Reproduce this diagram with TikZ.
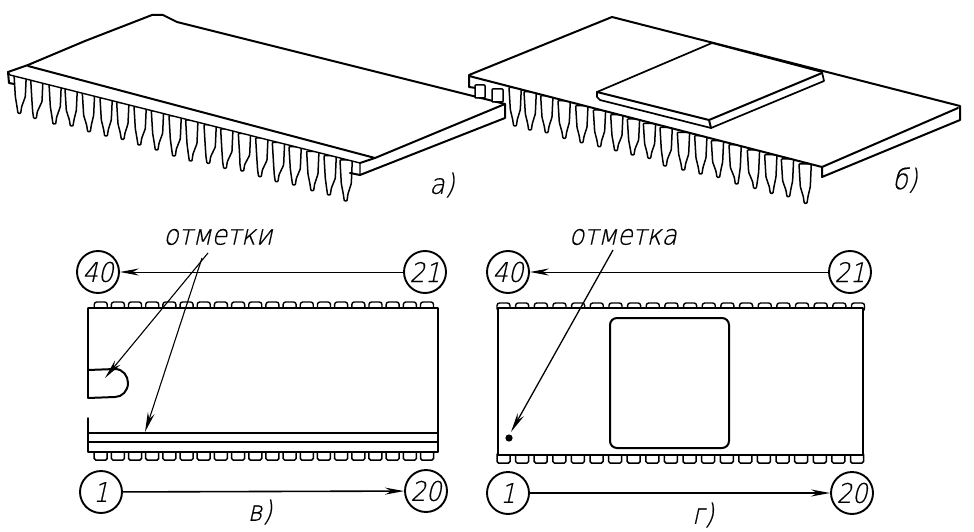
\documentclass[tikz,border=0pt]{standalone}
\usepackage{fontspec}
\usetikzlibrary{arrows.meta}
\newfontfamily\lab[FakeSlant=0.22,FakeBold=0.5,FakeStretch=0.9]{DejaVu Sans ExtraLight}
\tikzset{
  ln/.style={line width=2pt,line join=round,line cap=round},
  thn/.style={line width=1.4pt,line join=round,line cap=round},
  body/.style={ln,fill=white},
  pinl/.style={line width=1.5pt,line join=round,fill=white,rounded corners=0.8pt},
  num/.style={circle,draw,line width=1.9pt,minimum size=42pt,inner sep=0pt,font=\lab\fontsize{27}{27}\selectfont},
  lbl/.style={inner sep=0pt,font=\lab\fontsize{28}{28}\selectfont},
  arr/.style={line width=1pt,-{Stealth[length=19pt,width=7pt]}},
  narr/.style={line width=1.1pt,-{Stealth[length=20pt,width=7pt]}}
}
\newcommand{\longpin}[4]{%
  \pgfmathsetmacro{\La}{#2+0.50*(#4-#2)}%
  \pgfmathsetmacro{\Lb}{#2+0.80*(#4-#2)}%
  \pgfmathsetmacro{\xl}{#1-18}\pgfmathsetmacro{\xr}{#1+19}%
  \pgfmathsetmacro{\xxl}{#1-14}\pgfmathsetmacro{\xxr}{#1+16}%
  \pgfmathsetmacro{\yt}{#2-18}%
  \pgfmathsetmacro{\bl}{#3-7}\pgfmathsetmacro{\br}{#3+7}%
  \pgfmathsetmacro{\tl}{#3-4}\pgfmathsetmacro{\tr}{#3+4}%
  \draw[pinl] (\xl,\yt) -- (\xxl,\La) -- (\bl,\Lb) -- (\tl,#4) -- (\tr,#4) -- (\br,\Lb) -- (\xxr,\La) -- (\xr,\yt) -- cycle;}
\newcommand{\toprow}[3]{% first centre, last centre, base y
  \foreach \i in {0,...,19}{%
    \pgfmathsetmacro{\cx}{#1+\i*(#2-#1)/19}%
    \draw[line width=1.4pt,fill=white,rounded corners=2.5pt] (\cx-6.5,#3+2) -- (\cx-6.5,#3-6) -- (\cx+6.5,#3-6) -- (\cx+6.5,#3+2) -- cycle;}}
\newcommand{\botrow}[3]{%
  \foreach \i in {0,...,19}{%
    \pgfmathsetmacro{\cx}{#1+\i*(#2-#1)/19}%
    \draw[line width=1.5pt,fill=white,rounded corners=1.5pt] (\cx-6.5,#3-2) -- (\cx-6.5,#3+8) -- (\cx+6.5,#3+8) -- (\cx+6.5,#3-2) -- cycle;}}
\begin{document}
\begin{tikzpicture}[x=1pt,y=-1pt]
\useasboundingbox (0,0) rectangle (974,532);
% --- figure b: long pins
\begin{scope}[shift={(460pt,0pt)},x=0.3333pt,y=-0.3333pt]
  \foreach \a/\b/\c/\d in {165/280/165/378,210/293/210/390,260/305/260/398,312/320/313/415,365/335/365/428,418/348/418/440,470/362/468/452,520/375/518/465,568/388/568/475,618/400/615/498,670/415/670/510,722/425/722/522,772/440/775/532,825/452/830/552,880/468/885/565,932/482/935/580,982/495/985/590,1035/510/1037/610}{\longpin{\a}{\b}{\c}{\d}}
\end{scope}
% plate b
\draw[body] (469,75) -- (612,17) -- (960,106) -- (960,120) -- (822,177) -- (822,167) -- (469,76) -- cycle;
\draw[ln] (822,167) -- (958,108);
\draw[ln] (469,76) -- (469,87) -- (476,88);
% chip on b
\draw[body,line width=1.7pt] (597,92) -- (712,43) -- (822,72) -- (824,81) -- (711,128) -- (600,100) -- (597,97) -- cycle;
\draw[ln] (597,92) -- (709,120) -- (822,73);
\draw[ln] (709,120) -- (711,128);
% --- figure a: pins
\begin{scope}[x=0.3333pt,y=-0.3333pt]
  \foreach \a/\b/\c/\d in {60/240/58/340,110/255/105/355,165/268/163/372,213/285/215/378,265/297/267/395,318/312/318/408,368/325/368/418,420/337/418/435,472/350/470/450,525/365/522/468,575/378/572/483,630/392/625/490,680/405/675/505,733/418/727/513,785/432/780/530,835/445/830/545,885/458/882/555,938/472/937/572,990/485/987/585,1038/498/1037/603}{\longpin{\a}{\b}{\c}{\d}}
\end{scope}
% plate a
\fill[white] (8,72) -- (28,65) -- (152,15) -- (163,15) -- (177,22) -- (505,104) -- (505,118) -- (360,175) -- (360,163) -- (10,75) -- cycle;
\draw[ln] (8,72) -- (28,65) -- (85,41) -- (152,15) -- (163,15) -- (177,22) -- (505,104) -- (505,118) -- (360,175) -- (350,173);
\draw[ln] (28,66) -- (375,158) -- (505,104);
\draw[thn] (8,72) -- (10,75) -- (360,163) -- (360,175);
\draw[ln] (360,163) -- (375,158);
\draw[ln] (8,72) -- (9,83) -- (14,84);
% partial pins of b
\draw[pinl] (475,85) rectangle (485,98);
\draw[pinl] (492,89) rectangle (503,102);
% --- labels a, b
\node[lbl] (capa) at (442,185) {а)};
\node[lbl] (capb) at (905,180) {б)};
% --- view v
\toprow{100.7}{427}{308}
\botrow{100.7}{427}{452}
\fill[white] (88,308) rectangle (438,452);
\draw[thn] (88,308) -- (438,308) -- (438,452) -- (88,452) -- (88,418);
\draw[line width=2.4pt] (88,308) -- (88,398);
\draw[thn] (88,433) -- (438,433);
\draw[thn] (88,442) -- (438,442);
\draw[ln] (88,370) -- (115,369) .. controls (123,369) and (128,376) .. (128,383) .. controls (128,391) and (122,397) .. (115,397) -- (88,398);
\node[num] (v40) at (98,272) {40};
\node[num] (v21) at (425,272) {21};
\node[num] (v1) at (101,492) {1};
\node[num] (v20) at (426,491) {20};
\draw[arr] (v21) -- (v40);
\draw[arr,line width=1.6pt] (v1) -- (v20);
\node[lbl] (vlab) at (218,237) {отметки};
\coordinate (va) at (208,253);
\coordinate (vb) at (202,258);
\coordinate (vt1) at (105,378);
\coordinate (vt2) at (145,432);
\draw[narr] (va) -- (vt1);
\draw[narr] (vb) -- (vt2);
\node[lbl] (capv) at (260,512) {в)};
% --- view g
\toprow{503.5}{858}{309}
\botrow{503.5}{857}{455}
\draw[thn,fill=white,line width=1.6pt] (498,308) rectangle (863,455);
\draw[ln,rounded corners=7pt] (610,318) rectangle (729,448);
\fill (509,438) circle (3.6);
\node[num] (g40) at (508,272) {40};
\node[num] (g21) at (850,272) {21};
\node[num] (g1) at (508,493) {1};
\node[num] (g20) at (852,493) {20};
\draw[arr] (g21) -- (g40);
\draw[arr,line width=1.4pt] (g1) -- (g20);
\node[lbl] (glab) at (623,237) {отметка};
\coordinate (ga) at (613,250);
\coordinate (gt) at (511,432);
\draw[narr,line width=1.3pt] (ga) -- (gt);
\node[lbl] (capg) at (703,515) {г)};
\end{tikzpicture}
\end{document}
